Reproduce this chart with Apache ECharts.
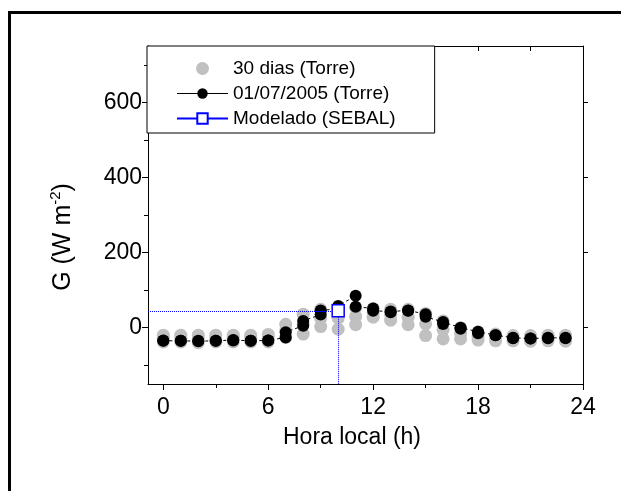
<!DOCTYPE html>
<html>
<head>
<meta charset="utf-8">
<script src="https://cdn.jsdelivr.net/npm/echarts@6/dist/echarts.min.js"></script>
<style>
  html, body { margin: 0; padding: 0; background: #fff; }
  #chart { width: 621px; height: 491px; }
</style>
</head>
<body>
<div id="chart"></div>
<script>
// Hours of the day (local time)
var hours = [0,1,2,3,4,5,6,7,8,9,10,11,12,13,14,15,16,17,18,19,20,21,22,23];

// 01/07/2005 tower record: two readings per hour (first and second half-hour)
var dayFirst  = [-35,-35,-36,-35,-33,-35,-34,-26, 5,35,50,85,51,43,46,36,15, 0,-11,-20,-27,-29,-27,-27];
var daySecond = [-34,-35,-35,-35,-34,-35,-34,-12,18,46,58,56,45,41,45,29,10,-3,-15,-20,-28,-29,-28,-28];

// 30-day tower record: upper, central and lower readings per hour
var monthHigh = [-20,-20,-20,-20,-20,-20,-18,  9,36,49,53,53,51,49,49,38,18,  0,-11,-17,-21,-21,-20,-20];
var monthMid  = [-28,-28,-30,-30,-28,-28,-28, -8,10,25,25,30,40,35,28,10,-5,-15,-22,-25,-28,-28,-28,-28];
var monthLow  = [-38,-38,-40,-38,-38,-38,-38,-26,-17, 3,-4, 8,28,20, 8,-21,-30,-30,-33,-35,-35,-36,-35,-36];

// SEBAL estimate at satellite overpass
var sebalHour = 10;
var sebalValue = 45;

// Axis ticks
var xMajor = [0,6,12,18,24];
var xMinor = [3,9,15,21];
var yMajor = [0,200,400,600];
var yMinor = [-100,100,300,500,700];
var xMin = -0.875, xMax = 24, yMin = -150, yMax = 750;

var FONT = 'Arial, "Liberation Sans", sans-serif';

var dayData = [];
hours.forEach(function (h, i) {
  dayData.push([h, dayFirst[i]]);
  dayData.push([h, daySecond[i]]);
});
var monthData = [];
hours.forEach(function (h, i) {
  monthData.push([h, monthHigh[i]]);
  monthData.push([h, monthMid[i]]);
  monthData.push([h, monthLow[i]]);
});

var chart = echarts.init(document.getElementById('chart'), null, { renderer: 'canvas' });

var option = {
  backgroundColor: '#fff',
  animation: false,
  grid: { left: 148, top: 46, right: 38, bottom: 107, containLabel: false },
  xAxis: [
    {
      type: 'value', min: xMin, max: xMax, position: 'bottom',
      splitLine: { show: false },
      axisLine: { show: true, onZero: false, lineStyle: { color: '#000', width: 1 } },
      axisTick: { show: true, inside: false, length: 6, customValues: xMajor, lineStyle: { color: '#000' } },
      axisLabel: { show: true, customValues: xMajor, color: '#000', fontSize: 23, fontFamily: FONT, margin: 12 }
    },
    {
      type: 'value', min: xMin, max: xMax, position: 'bottom',
      splitLine: { show: false },
      axisLine: { show: false, onZero: false },
      axisTick: { show: true, inside: false, length: 4, customValues: xMinor, lineStyle: { color: '#000' } },
      axisLabel: { show: false }
    },
    {
      type: 'value', min: xMin, max: xMax, position: 'top',
      splitLine: { show: false },
      axisLine: { show: true, onZero: false, lineStyle: { color: '#000', width: 1 } },
      axisTick: { show: true, inside: true, length: 5, customValues: xMajor.concat(xMinor), lineStyle: { color: '#000' } },
      axisLabel: { show: false }
    }
  ],
  yAxis: [
    {
      type: 'value', min: yMin, max: yMax, position: 'left',
      splitLine: { show: false },
      axisLine: { show: true, onZero: false, lineStyle: { color: '#000', width: 1 } },
      axisTick: { show: true, inside: false, length: 6, customValues: yMajor, lineStyle: { color: '#000' } },
      axisLabel: { show: true, customValues: yMajor, color: '#000', fontSize: 23, fontFamily: FONT, margin: 6 }
    },
    {
      type: 'value', min: yMin, max: yMax, position: 'left',
      splitLine: { show: false },
      axisLine: { show: false, onZero: false },
      axisTick: { show: true, inside: false, length: 4, customValues: yMinor, lineStyle: { color: '#000' } },
      axisLabel: { show: false }
    },
    {
      type: 'value', min: yMin, max: yMax, position: 'right',
      splitLine: { show: false },
      axisLine: { show: true, onZero: false, lineStyle: { color: '#000', width: 1 } },
      axisTick: { show: true, inside: false, length: 5, customValues: yMajor, lineStyle: { color: '#000' } },
      axisLabel: { show: false }
    }
  ],
  legend: {
    orient: 'vertical',
    left: 147, top: 46,
    padding: [12, 39, 4, 29],
    itemGap: 4,
    itemWidth: 51,
    itemHeight: 13,
    borderColor: '#000',
    borderWidth: 1,
    borderRadius: 0,
    backgroundColor: '#fff',
    textStyle: { color: '#000', fontSize: 19, fontFamily: FONT, lineHeight: 21 },
    data: [
      { name: '30 dias (Torre)', icon: 'circle' },
      { name: '01/07/2005 (Torre)', lineStyle: { type: 'solid', width: 1, color: '#000' } },
      { name: 'Modelado (SEBAL)' }
    ]
  },
  graphic: [
    {
      type: 'rect', z: 100, silent: true,
      shape: { x: 9.5, y: 12.5, width: 700, height: 600 },
      style: { fill: 'none', stroke: '#000', lineWidth: 3 }
    },
    {
      type: 'text', z: 100, silent: true,
      x: 352, y: 438,
      style: { text: 'Hora local (h)', fill: '#000', font: '23px ' + FONT, textAlign: 'center', textVerticalAlign: 'middle' }
    },
    {
      type: 'text', z: 100, silent: true,
      x: 62, y: 237, rotation: Math.PI / 2,
      style: {
        text: '{a|G (W m}{s|-2}{a|)}',
        textAlign: 'center', textVerticalAlign: 'middle',
        rich: {
          a: { fontSize: 25, fontFamily: FONT, fill: '#000', lineHeight: 28, verticalAlign: 'bottom' },
          s: { fontSize: 15, fontFamily: FONT, fill: '#000', lineHeight: 28, verticalAlign: 'top' }
        }
      }
    }
  ],
  series: [
    {
      name: '30 dias (Torre)',
      type: 'scatter',
      xAxisIndex: 0, yAxisIndex: 0,
      symbol: 'circle', symbolSize: 13,
      itemStyle: { color: '#c0c0c0', opacity: 1 },
      data: monthData,
      z: 2
    },
    {
      name: '01/07/2005 (Torre)',
      type: 'line',
      xAxisIndex: 0, yAxisIndex: 0,
      symbol: 'circle', symbolSize: 12, showSymbol: true,
      itemStyle: { color: '#000' },
      lineStyle: { color: '#000', width: 1, type: [3, 3] },
      data: dayData,
      z: 3
    },
    {
      name: 'Modelado (SEBAL)',
      type: 'line',
      xAxisIndex: 0, yAxisIndex: 0,
      symbol: 'rect', symbolSize: 12,
      itemStyle: { color: '#fff', borderColor: '#0000ff', borderWidth: 1.5 },
      lineStyle: { color: '#0000ff', width: 1 },
      data: [[sebalHour, sebalValue]],
      markLine: {
        silent: true,
        symbol: ['none', 'none'],
        label: { show: false },
        lineStyle: { color: '#0000ff', width: 1, type: [1, 1] },
        data: [
          [{ coord: [xMin, sebalValue] }, { coord: [sebalHour, sebalValue] }],
          [{ coord: [sebalHour, sebalValue] }, { coord: [sebalHour, yMin] }]
        ]
      },
      z: 5
    }
  ]
};

chart.setOption(option);
</script>
</body>
</html>
